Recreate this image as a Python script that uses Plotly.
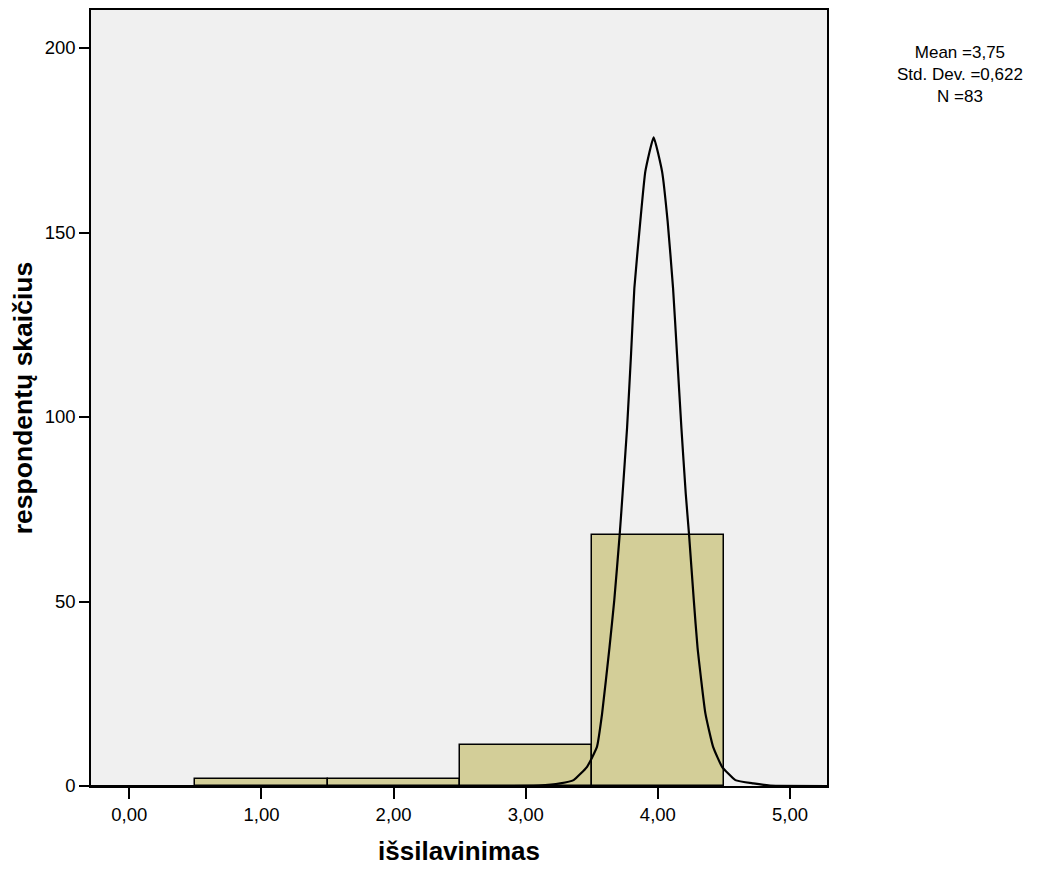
import plotly.graph_objects as go

# Histogram bins (centres) and counts
bin_centers = [1, 2, 3, 4]
counts = [2, 2, 11, 68]

# Normal curve points
curve_x = [-0.29, 2.9, 3.1, 3.261, 3.362, 3.464, 3.539, 3.578, 3.634, 3.670, 3.711, 3.733,
           3.767, 3.797, 3.822, 3.867, 3.905, 3.968, 4.032, 4.074, 4.115, 4.145, 4.178,
           4.211, 4.236, 4.272, 4.300, 4.360, 4.418, 4.486, 4.587, 4.723, 4.85, 5.28]
curve_y = [0.0, 0.0, 0.1, 0.7, 1.6, 5.2, 10.6, 19.6, 37.6, 50.3, 68.1, 79.2,
           97.1, 117.0, 134.9, 153.0, 166.5, 175.8, 166.5, 153.0, 134.9, 117.0, 97.1,
           79.2, 68.1, 50.3, 37.6, 19.6, 10.6, 5.2, 1.6, 0.7, 0.1, 0.0]

x_ticks = [0, 1, 2, 3, 4, 5]
x_tick_labels = ["0,00", "1,00", "2,00", "3,00", "4,00", "5,00"]
y_ticks = [0, 50, 100, 150, 200]

stats_text = "Mean =3,75<br>Std. Dev. =0,622<br>N =83"

FONT = "Arial, Liberation Sans, sans-serif"

fig = go.Figure()
fig.add_trace(go.Bar(
    x=bin_centers, y=counts, width=1,
    marker=dict(color="#d3ce98", line=dict(color="black", width=1.5)),
    showlegend=False, hoverinfo="skip",
))
fig.add_trace(go.Scatter(
    x=curve_x, y=curve_y, mode="lines",
    line=dict(color="black", width=2.2, shape="spline", smoothing=0.4),
    showlegend=False, hoverinfo="skip",
))

plot_top, plot_bottom = 8, 786
fig.update_layout(
    width=1040, height=873,
    margin=dict(l=91, r=213, t=8, b=87),
    paper_bgcolor="white",
    plot_bgcolor="#f0f0f0",
    font=dict(family=FONT, size=18.5, color="black"),
    bargap=0,
    xaxis=dict(
        range=[-0.29, 5.28], tickvals=x_ticks, ticktext=x_tick_labels,
        showgrid=False, zeroline=False,
        showline=True, linecolor="black", linewidth=1.5, mirror=True,
        ticks="outside", ticklen=11, tickwidth=2, tickcolor="black",
        tickfont=dict(size=18.5),
        title=dict(text="<b>išsilavinimas</b>", font=dict(size=26), standoff=18),
    ),
    yaxis=dict(
        range=[0, 210.3], tickvals=y_ticks,
        showgrid=False, zeroline=False,
        showline=True, linecolor="black", linewidth=1.5, mirror=True,
        ticks="outside", ticklen=10, tickwidth=2, tickcolor="black",
        tickfont=dict(size=18.5),
        title=dict(text="<b>respondentų skaičius</b>", font=dict(size=26.5), standoff=4),
    ),
    annotations=[dict(
        text=stats_text, xref="paper", yref="paper",
        x=(960 - 91) / 736, y=(plot_bottom - 73) / (plot_bottom - plot_top),
        xanchor="center", yanchor="middle",
        showarrow=False, align="center",
        font=dict(family=FONT, size=17, color="black"),
    )],
)

fig.write_html("out.html")
